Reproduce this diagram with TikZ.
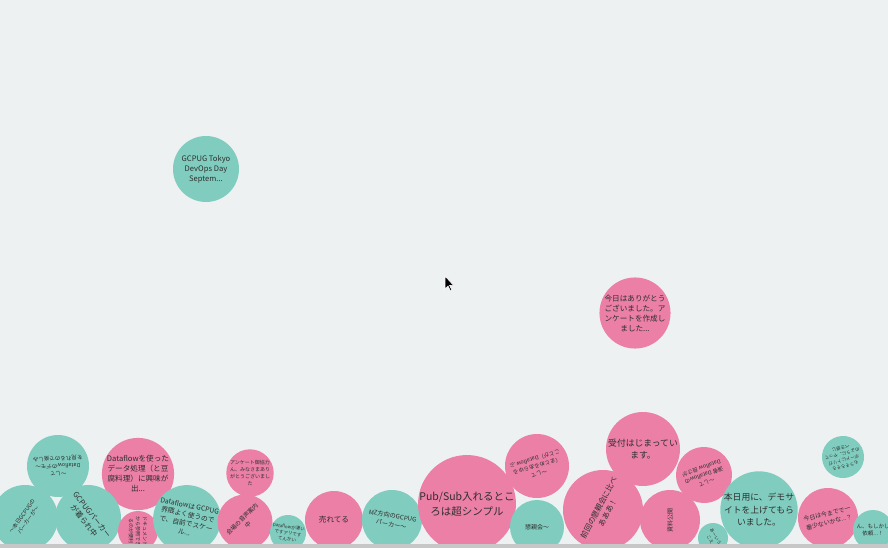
\documentclass[tikz,border=0pt]{standalone}
\usepackage{fontspec}
\setmainfont{Noto Sans CJK JP}
\definecolor{bgc}{HTML}{EEF1F2}
\definecolor{tealc}{HTML}{80CDBF}
\definecolor{pinkc}{HTML}{EB7FA5}
\definecolor{txtc}{HTML}{2E2E2E}
\begin{document}
\begin{tikzpicture}[x=1pt,y=-1pt,
	bub/.style={circle,inner sep=0,align=center,text=txtc,font=\fontsize{7.6}{10}\selectfont},
	tbub/.style={bub,fill=tealc},
	pbub/.style={bub,fill=pinkc}]
\useasboundingbox (0,0) rectangle (888,548);
\fill[bgc] (0,0) rectangle (888,548);
\begin{scope}
\clip (0,0) rectangle (888,548);
\node[tbub,minimum size=66] (devops) at (206,169) {GCPUG Tokyo\\DevOps Day\\Septem...};
\node[pbub,minimum size=70] (thanks) at (635,313) {今日はありがとう\\ございました。ア\\ンケートを作成し\\ました...};
\node[tbub,minimum size=62,rotate=182,font=\fontsize{5.5}{7.5}\selectfont] (demo) at (58,466) {〜して\\Dataflowのデモ〜\\を見れるので楽しみ};
\node[pbub,minimum size=70] (tofu) at (138,474) {Dataflowを使った\\データ処理（と豆\\腐料理）に興味が\\出...};
\node[tbub,minimum size=66,rotate=55,font=\fontsize{5.5}{7.5}\selectfont] (today) at (25,518) {〜本日GCPUGの\\パーカーが〜};
\node[tbub,minimum size=66,rotate=-52] (hoodie) at (88,518) {GCPUGパーカー\\が着られ中};
\node[pbub,minimum size=40,rotate=-90,font=\fontsize{5}{7}\selectfont] (docs) at (138,531) {ドキュメント\\から参照でき\\るのが便利};
\node[tbub,minimum size=64,rotate=-12,font=\fontsize{6.8}{9}\selectfont] (scale) at (187,519) {Dataflowは GCPUG\\界隈よく使うので\\で、自前でスケー\\ル...};
\node[pbub,minimum size=45,font=\fontsize{5}{7}\selectfont] (survey) at (250,473) {アンケート御協力\\ん、みなさまあり\\がとうございまし\\た};
\node[pbub,minimum size=55,rotate=45,font=\fontsize{6}{8}\selectfont] (voice) at (245,522) {会場の音声案内\\中};
\node[tbub,minimum size=36,rotate=-8,font=\fontsize{4.5}{6.2}\selectfont] (great) at (288,533) {Dataflowが凄い\\ですアリです\\てんかい};
\node[pbub,minimum size=58] (sold) at (334,520) {売れてる};
\node[tbub,minimum size=60,rotate=-10,font=\fontsize{6.2}{8.5}\selectfont] (mz) at (392,520) {MZ方向のGCPUG\\パーカー〜};
\node[pbub,minimum size=94,font=\fontsize{10.5}{15}\selectfont] (pubsub) at (467,504) {Pub/Sub入れるとこ\\ろは超シンプル};
\node[pbub,minimum size=64,rotate=196,font=\fontsize{5.5}{7.5}\selectfont] (flow) at (537,466) {〜して\\（まとめるあらゆる\\ことが）Dataflow ぶ};
\node[tbub,minimum size=54,font=\fontsize{6}{8}\selectfont] (party) at (537,527) {懇親会〜};
\node[pbub,minimum size=80,rotate=62] (prev) at (603,510) {前回の懇親会に比べ\\あああ！};
\node[pbub,minimum size=74,font=\fontsize{8.8}{12.5}\selectfont] (reception) at (643,449) {受付はじまってい\\ます。};
\node[pbub,minimum size=56,rotate=200,font=\fontsize{5.5}{7.5}\selectfont] (speaker) at (704,475) {〜して\\演者 Dataflowの\\Dataflow 良さが};
\node[pbub,minimum size=60,rotate=90,font=\fontsize{6}{8}\selectfont] (slides) at (670,520) {資料公開};
\node[tbub,minimum size=30,rotate=-60,font=\fontsize{4.5}{6.2}\selectfont] (aiu) at (713,538) {あーいう\\こえ};
\node[tbub,minimum size=76,font=\fontsize{8.8}{12.5}\selectfont] (demosite) at (759,510) {本日用に、デモサ\\イトを上げてもら\\いました。};
\node[pbub,minimum size=60,rotate=14,font=\fontsize{6}{8.5}\selectfont] (fewest) at (828,518) {今日は今までで一\\番少ないかな...？};
\node[tbub,minimum size=42,rotate=195,font=\fontsize{4.5}{6.2}\selectfont] (board) at (843,457) {もうそろそろ\\ボードにトリガ\\のように、やって\\べき感じ};
\node[tbub,minimum size=40,font=\fontsize{5.5}{7.5}\selectfont] (request) at (873,530) {ん、もしかし\\依頼...！};
\end{scope}
\fill[black!22] (0,544) rectangle (888,548);
\filldraw[fill=black,draw=white,line width=0.6] (445,276) -- (445,289) -- (448,286) -- (450.5,291) -- (452,290.3) -- (449.6,285.5) -- (453.5,285.3) -- cycle;
\end{tikzpicture}
\end{document}
